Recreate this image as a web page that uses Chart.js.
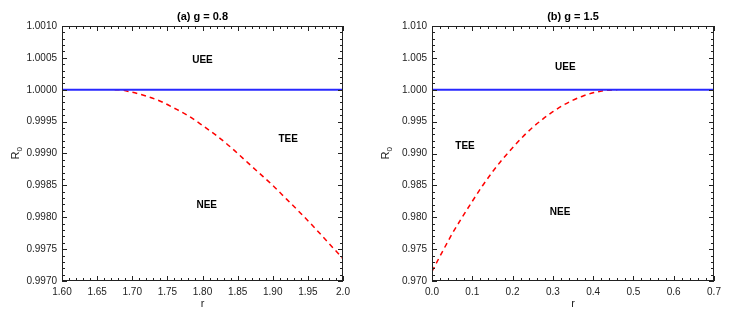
<!DOCTYPE html>
<html>
<head>
<meta charset="utf-8">
<script src="https://cdn.jsdelivr.net/npm/chart.js@4.4.0/dist/chart.umd.min.js"></script>
<style>
  body { margin: 0; background: #fff; }
  .box { position: absolute; top: 0; height: 316px; }
</style>
</head>
<body>
<div class="box" style="left:0;width:369px"><canvas id="chartA" width="369" height="316"></canvas></div>
<div class="box" style="left:370px;width:367px"><canvas id="chartB" width="367" height="316"></canvas></div>
<script>
// panel (a) g = 0.8
var rA = [1.675, 1.68, 1.70, 1.72, 1.74, 1.76, 1.78, 1.80, 1.82, 1.84, 1.86, 1.88, 1.90, 1.92, 1.94, 1.96, 1.98, 2.00];
var R0A = [1.00000, 1.00000, 0.99996, 0.99990, 0.99982, 0.99971, 0.99959, 0.99944, 0.99928, 0.99910, 0.99890, 0.99870, 0.99850, 0.99828, 0.99806, 0.99783, 0.99759, 0.99735];
var xTicksA = ['1.60', '1.65', '1.70', '1.75', '1.80', '1.85', '1.90', '1.95', '2.0'];
var yTicksA = ['0.9970', '0.9975', '0.9980', '0.9985', '0.9990', '0.9995', '1.0000', '1.0005', '1.0010'];
var labelsA = ['UEE', 'TEE', 'NEE'];
var labelXA = [1.80, 1.922, 1.806];
var labelYA = [1.00047, 0.99923, 0.99819];

// panel (b) g = 1.5
var rB = [0.000, 0.025, 0.050, 0.075, 0.100, 0.125, 0.150, 0.175, 0.200, 0.225, 0.250, 0.275, 0.300, 0.325, 0.350, 0.375, 0.400, 0.425, 0.450, 0.460];
var R0B = [0.9715, 0.9745, 0.9774, 0.9800, 0.9825, 0.9849, 0.9871, 0.9891, 0.9909, 0.9926, 0.9941, 0.9954, 0.99655, 0.99755, 0.99837, 0.99903, 0.99952, 0.99984, 0.99999, 1.0000];
var xTicksB = ['0.0', '0.1', '0.2', '0.3', '0.4', '0.5', '0.6', '0.7'];
var yTicksB = ['0.970', '0.975', '0.980', '0.985', '0.990', '0.995', '1.000', '1.005', '1.010'];
var labelsB = ['UEE', 'TEE', 'NEE'];
var labelXB = [0.331, 0.082, 0.318];
var labelYB = [1.00357, 0.99112, 0.98085];

var FONT = '"Liberation Sans", Arial, "DejaVu Sans", sans-serif';

// frame, inward ticks on all four sides, region labels, title and R0 axis label
var framePlugin = {
    id: 'frame',
    afterDatasetsDraw: function(chart, args, opts) {
        var ctx = chart.ctx;
        var a = chart.chartArea;
        var xs = chart.scales.x, ys = chart.scales.y;
        ctx.save();
        ctx.strokeStyle = '#222';
        ctx.lineWidth = 1;
        ctx.strokeRect(a.left + 0.5, a.top + 0.5, a.right - a.left - 1, a.bottom - a.top - 1);

        ctx.beginPath();
        var i, k, v, p, len;
        var nx = opts.xTicks.length;
        for (i = 0; i < nx; i++) {
            for (k = 0; k < 5; k++) {
                if (i == nx - 1 && k > 0) break;
                v = xs.min + (i + k / 5) * opts.xStep;
                p = Math.round(xs.getPixelForValue(v)) + 0.5;
                len = k == 0 ? 5 : 3;
                ctx.moveTo(p, a.bottom); ctx.lineTo(p, a.bottom - len);
                ctx.moveTo(p, a.top); ctx.lineTo(p, a.top + len);
            }
        }
        var ny = opts.yTicks.length;
        for (i = 0; i < ny; i++) {
            for (k = 0; k < 5; k++) {
                if (i == ny - 1 && k > 0) break;
                v = ys.min + (i + k / 5) * opts.yStep;
                p = Math.round(ys.getPixelForValue(v)) + 0.5;
                len = k == 0 ? 5 : 3;
                ctx.moveTo(a.left, p); ctx.lineTo(a.left + len, p);
                ctx.moveTo(a.right, p); ctx.lineTo(a.right - len, p);
            }
        }
        ctx.stroke();

        ctx.fillStyle = '#000';
        ctx.font = 'bold 10px ' + FONT;
        ctx.textAlign = 'center';
        ctx.textBaseline = 'middle';
        for (i = 0; i < opts.labels.length; i++) {
            ctx.fillText(opts.labels[i], xs.getPixelForValue(opts.labelX[i]), ys.getPixelForValue(opts.labelY[i]));
        }

        ctx.font = 'bold 11px ' + FONT;
        ctx.fillText(opts.title, (a.left + a.right) / 2, 17);

        ctx.fillStyle = '#222';
        ctx.translate(16, (a.top + a.bottom) / 2);
        ctx.rotate(-Math.PI / 2);
        ctx.font = '11px ' + FONT;
        ctx.textAlign = 'right';
        ctx.fillText('R', 2, 0);
        ctx.font = '8px ' + FONT;
        ctx.textAlign = 'left';
        ctx.fillText('0', 2, 4);
        ctx.restore();
    }
};

function points(xs, ys) {
    return xs.map(function(x, i) { return { x: x, y: ys[i] }; });
}

function makeChart(id, cfg) {
    var ctx = document.getElementById(id).getContext('2d');
    return new Chart(ctx, {
        type: 'line',
        data: {
            datasets: [{
                data: [{ x: cfg.xMin, y: 1 }, { x: cfg.xMax, y: 1 }],
                borderColor: 'rgba(40, 40, 255, 1)',
                borderWidth: 2,
                pointRadius: 0
            }, {
                data: points(cfg.r, cfg.R0),
                borderColor: 'rgba(255, 0, 0, 1)',
                borderWidth: 1.5,
                borderDash: [5, 4],
                cubicInterpolationMode: 'monotone',
                pointRadius: 0
            }]
        },
        options: {
            responsive: false,
            animation: false,
            devicePixelRatio: 1,
            layout: { padding: { top: 26, right: cfg.padRight, left: 0, bottom: 0 } },
            plugins: {
                legend: { display: false },
                tooltip: { enabled: false },
                frame: {
                    title: cfg.title,
                    xTicks: cfg.xTicks, yTicks: cfg.yTicks,
                    xStep: cfg.xStep, yStep: cfg.yStep,
                    labels: cfg.labels, labelX: cfg.labelX, labelY: cfg.labelY
                }
            },
            scales: {
                x: {
                    type: 'linear',
                    min: cfg.xMin, max: cfg.xMax,
                    grid: { display: false, drawTicks: false },
                    border: { display: false },
                    afterFit: function(s) { s.height = 35; },
                    afterBuildTicks: function(s) {
                        s.ticks = cfg.xTicks.map(function(t, i) { return { value: cfg.xMin + i * cfg.xStep }; });
                    },
                    ticks: {
                        padding: 5,
                        color: '#222',
                        maxRotation: 0,
                        autoSkip: false,
                        font: { family: FONT, size: 10 },
                        callback: function(v, i) { return cfg.xTicks[i]; }
                    },
                    title: {
                        display: true, text: 'r', color: '#222',
                        padding: { top: 0, bottom: 5 },
                        font: { family: FONT, size: 11 }
                    }
                },
                y: {
                    type: 'linear',
                    min: cfg.yMin, max: cfg.yMax,
                    grid: { display: false, drawTicks: false },
                    border: { display: false },
                    afterFit: function(s) { s.width = 62; },
                    afterBuildTicks: function(s) {
                        s.ticks = cfg.yTicks.map(function(t, i) { return { value: cfg.yMin + i * cfg.yStep }; });
                    },
                    ticks: {
                        padding: 5,
                        color: '#222',
                        autoSkip: false,
                        font: { family: FONT, size: 10 },
                        callback: function(v, i) { return cfg.yTicks[i]; }
                    }
                }
            }
        },
        plugins: [framePlugin]
    });
}

makeChart('chartA', {
    title: '(a) g = 0.8', r: rA, R0: R0A,
    xMin: 1.6, xMax: 2.0, xStep: 0.05, yMin: 0.997, yMax: 1.001, yStep: 0.0005,
    xTicks: xTicksA, yTicks: yTicksA,
    labels: labelsA, labelX: labelXA, labelY: labelYA, padRight: 26
});

makeChart('chartB', {
    title: '(b) g = 1.5', r: rB, R0: R0B,
    xMin: 0, xMax: 0.7, xStep: 0.1, yMin: 0.97, yMax: 1.01, yStep: 0.005,
    xTicks: xTicksB, yTicks: yTicksB,
    labels: labelsB, labelX: labelXB, labelY: labelYB, padRight: 23
});
</script>
</body>
</html>
